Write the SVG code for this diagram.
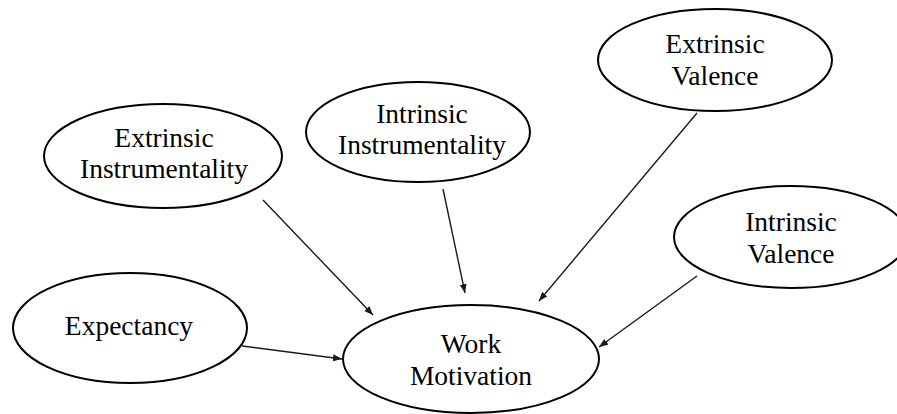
<svg xmlns="http://www.w3.org/2000/svg" width="897" height="414" viewBox="0 0 897 414">
<style>
.node ellipse{fill:#fff;stroke:#000;stroke-width:2}
.node text{font-family:'Liberation Serif','Times New Roman',Times,serif;font-size:27.5px;fill:#000;text-anchor:middle}
.edges line{stroke:#1a1a1a;stroke-width:1.4;marker-end:url(#ah)}
</style>
<defs>
<marker id="ah" markerUnits="userSpaceOnUse" markerWidth="10" markerHeight="8" refX="9" refY="3.5" orient="auto">
<path d="M0,0 L9,3.5 L0,7 z" fill="#1a1a1a"/>
</marker>
</defs>
<rect width="897" height="414" fill="#fff"/>
<g id="n-extrinsic-valence" class="node">
<ellipse cx="715" cy="60" rx="117" ry="51"/>
<text x="715" y="53">Extrinsic</text>
<text x="715" y="85">Valence</text>
</g>
<g id="n-intrinsic-instrumentality" class="node">
<ellipse cx="418" cy="132" rx="112" ry="50"/>
<text x="422" y="123">Intrinsic</text>
<text x="422" y="154">Instrumentality</text>
</g>
<g id="n-extrinsic-instrumentality" class="node">
<ellipse cx="163" cy="156" rx="119" ry="52"/>
<text x="164" y="147">Extrinsic</text>
<text x="164" y="178">Instrumentality</text>
</g>
<g id="n-intrinsic-valence" class="node">
<ellipse cx="791" cy="237" rx="117" ry="51"/>
<text x="791" y="231">Intrinsic</text>
<text x="791" y="263">Valence</text>
</g>
<g id="n-expectancy" class="node">
<ellipse cx="130" cy="328" rx="117" ry="55"/>
<text x="129" y="335">Expectancy</text>
</g>
<g id="n-work-motivation" class="node">
<ellipse cx="471" cy="359" rx="128" ry="54"/>
<text x="471" y="353">Work</text>
<text x="471" y="385">Motivation</text>
</g>
<g id="edges" class="edges">
<line x1="242" y1="346" x2="342" y2="359"/>
<line x1="263" y1="200" x2="373" y2="315"/>
<line x1="443" y1="189" x2="465" y2="293"/>
<line x1="697" y1="113" x2="539" y2="301"/>
<line x1="697" y1="276" x2="599" y2="347"/>
</g>
</svg>
